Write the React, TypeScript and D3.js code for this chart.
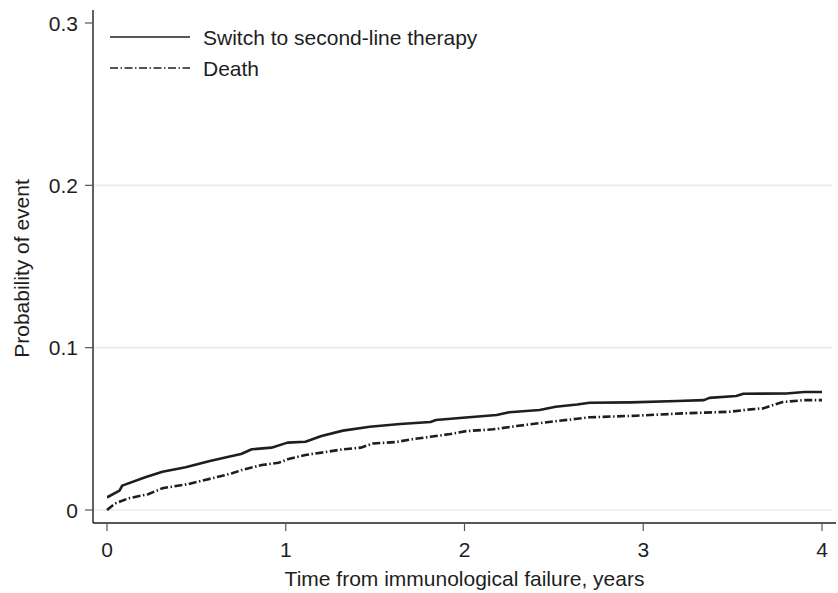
import * as d3 from 'd3';

const switchTimes = [0, 0.004, 0.07, 0.085, 0.21, 0.31, 0.44, 0.57, 0.68, 0.75, 0.81, 0.92, 1.01, 1.11, 1.2, 1.32, 1.47, 1.64, 1.81, 1.84, 1.99, 2.18, 2.25, 2.42, 2.51, 2.63, 2.7, 2.93, 3.19, 3.34, 3.37, 3.52, 3.56, 3.8, 3.9, 4.0];
const switchValues = [0.008, 0.008, 0.012, 0.015, 0.02, 0.0236, 0.0263, 0.03, 0.0328, 0.0345, 0.0374, 0.0384, 0.0415, 0.042, 0.0456, 0.0489, 0.0513, 0.053, 0.0542, 0.0554, 0.0568, 0.0585, 0.0602, 0.0616, 0.0636, 0.065, 0.0661, 0.0663, 0.0671, 0.0677, 0.0691, 0.0702, 0.0716, 0.0718, 0.0727, 0.0727];

const deathTimes = [0, 0.045, 0.12, 0.23, 0.31, 0.455, 0.586, 0.7, 0.754, 0.866, 0.96, 1.01, 1.11, 1.24, 1.32, 1.42, 1.49, 1.62, 1.7, 1.81, 1.92, 2.01, 2.16, 2.29, 2.44, 2.63, 2.7, 2.96, 3.22, 3.48, 3.6, 3.67, 3.78, 3.9, 4.0];
const deathValues = [0, 0.004, 0.0072, 0.0097, 0.0134, 0.016, 0.0195, 0.0226, 0.0246, 0.0277, 0.0291, 0.0312, 0.0339, 0.036, 0.0374, 0.0384, 0.041, 0.0419, 0.0435, 0.0451, 0.0468, 0.0486, 0.0497, 0.0517, 0.0538, 0.0562, 0.0571, 0.0581, 0.0595, 0.0605, 0.062, 0.0626, 0.0665, 0.0677, 0.0677];

const xTicks = [0, 1, 2, 3, 4];
const yTicks = [0, 0.1, 0.2, 0.3];
const gridTicks = [0, 0.1, 0.2];
const seriesNames = ['Switch to second-line therapy', 'Death'];

const width = 838;
const height = 593;
const font = '"Liberation Sans", Arial, Helvetica, sans-serif';
const ink = '#1e1e1e';
const dashDot = '8,2.5,1.5,2.5';

export default function App() {
  const x = d3.scaleLinear().domain([0, 4]).range([107, 822]);
  const y = d3.scaleLinear().domain([0, 0.3]).range([510, 23]);

  const line = d3.line<[number, number]>()
    .x(d => x(d[0]))
    .y(d => y(d[1]));

  const switchPath = line(switchTimes.map((t, i) => [t, switchValues[i]]) as [number, number][]) || '';
  const deathPath = line(deathTimes.map((t, i) => [t, deathValues[i]]) as [number, number][]) || '';

  const axisLeft = 93;
  const axisBottom = 523;
  const plotRight = 836;

  return (
    <svg width={width} height={height} style={{ position: 'absolute', left: 0, top: 0, background: '#fff' }}
      fontFamily={font}>
      {/* grid */}
      {gridTicks.map(v => (
        <line key={'g' + v} x1={axisLeft} x2={plotRight - 4} y1={y(v)} y2={y(v)} stroke="#ebebeb" strokeWidth={1.6} />
      ))}

      {/* axes */}
      <line x1={axisLeft} x2={axisLeft} y1={10} y2={axisBottom} stroke={ink} strokeWidth={1.4} />
      <line x1={axisLeft} x2={plotRight} y1={axisBottom} y2={axisBottom} stroke={ink} strokeWidth={1.4} />

      {yTicks.map(v => (
        <g key={'y' + v}>
          <line x1={axisLeft - 8} x2={axisLeft} y1={y(v)} y2={y(v)} stroke="#555" strokeWidth={1.2} />
          <text x={78} y={y(v)} dy="0.36em" textAnchor="end" fontSize={21} fill={ink}>
            {v === 0 ? '0' : d3.format('.1f')(v)}
          </text>
        </g>
      ))}

      {xTicks.map(v => (
        <g key={'x' + v}>
          <line x1={x(v)} x2={x(v)} y1={axisBottom} y2={axisBottom + 8} stroke="#555" strokeWidth={1.2} />
          <text x={x(v)} y={557} textAnchor="middle" fontSize={21} fill={ink}>{v}</text>
        </g>
      ))}

      <text x={(x(0) + x(4)) / 2} y={586} textAnchor="middle" fontSize={21} fill={ink}>
        Time from immunological failure, years
      </text>
      <text transform={`translate(29,${y(0.15) + 2}) rotate(-90)`} textAnchor="middle" fontSize={21} fill={ink}>
        Probability of event
      </text>

      {/* curves */}
      <path d={switchPath} fill="none" stroke={ink} strokeWidth={2.6} strokeLinejoin="round" />
      <path d={deathPath} fill="none" stroke={ink} strokeWidth={2.6} strokeDasharray={dashDot} />

      {/* legend */}
      <line x1={110} x2={190} y1={37} y2={37} stroke={ink} strokeWidth={1.7} />
      <text x={203} y={37} dy="0.36em" fontSize={21} fill={ink}>{seriesNames[0]}</text>
      <line x1={110} x2={190} y1={68} y2={68} stroke={ink} strokeWidth={1.7} strokeDasharray={dashDot} />
      <text x={203} y={68} dy="0.36em" fontSize={21} fill={ink}>{seriesNames[1]}</text>
    </svg>
  );
}
